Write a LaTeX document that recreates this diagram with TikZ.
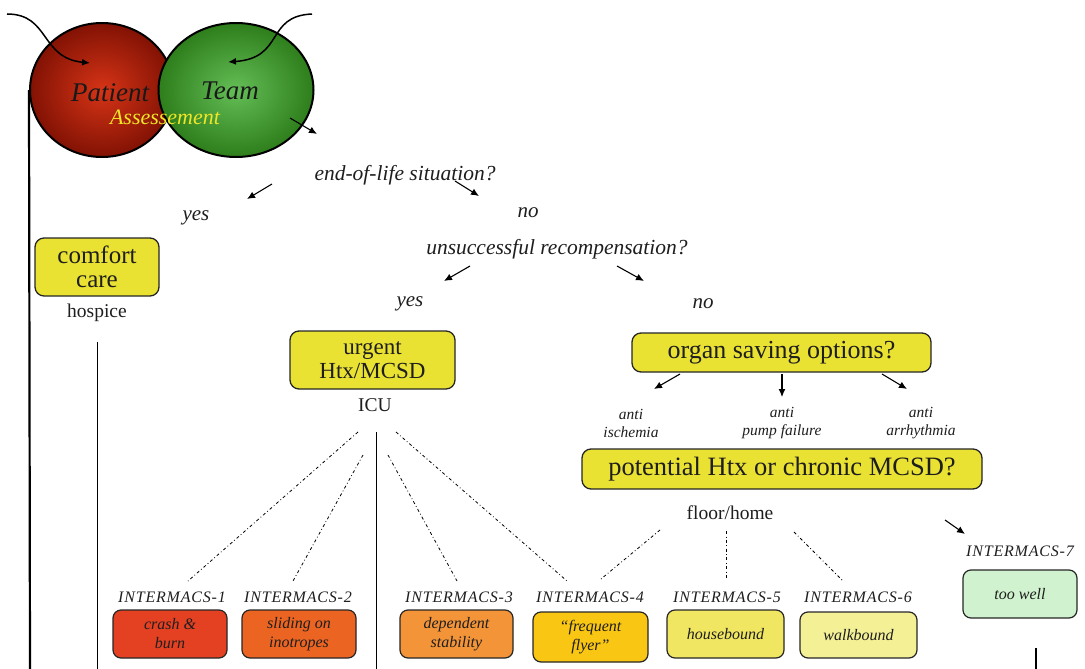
\documentclass[tikz,border=0pt]{standalone}
\usepackage{fontspec}
\setmainfont{Liberation Serif}
\usetikzlibrary{arrows.meta,shapes.geometric}
\definecolor{boxyellow}{RGB}{234,226,50}
\definecolor{redin}{RGB}{214,52,22}
\definecolor{redout}{RGB}{130,18,4}
\definecolor{greenin}{RGB}{100,190,86}
\definecolor{greenout}{RGB}{46,126,28}
\definecolor{assess}{RGB}{240,230,40}
\definecolor{im1}{RGB}{228,64,34}
\definecolor{im2}{RGB}{236,100,34}
\definecolor{im3}{RGB}{244,148,56}
\definecolor{im4}{RGB}{250,198,20}
\definecolor{im5}{RGB}{240,230,98}
\definecolor{im6}{RGB}{244,240,150}
\definecolor{im7}{RGB}{208,242,206}
\definecolor{txt}{RGB}{30,30,30}
\begin{document}
\begin{tikzpicture}[x=1pt,y=-1pt,
  ybox/.style={draw=black!85,line width=1.3pt,rounded corners=9pt,fill=boxyellow,align=center,inner sep=1pt,text=txt},
  ibox/.style={draw=black!85,line width=1.2pt,rounded corners=8pt,minimum width=114pt,minimum height=48pt,align=center,inner sep=1pt,font=\fontsize{16}{19}\selectfont\itshape,text=txt},
  ilabel/.style={font=\fontsize{16}{18}\selectfont\itshape\addfontfeatures{LetterSpace=5},text=txt},
  qtext/.style={font=\fontsize{21.5}{24}\selectfont\itshape,text=txt},
  ans/.style={font=\fontsize{21}{24}\selectfont\itshape,text=txt},
  small/.style={font=\fontsize{15.5}{18}\selectfont\itshape,align=center,text=txt},
  place/.style={font=\fontsize{19.5}{22}\selectfont,text=txt},
  arr/.style={-{Latex[length=8pt,width=7pt]},line width=1.1pt},
  dd/.style={line width=0.8pt,dash pattern=on 3pt off 2.5pt on 0.8pt off 2.5pt},
  thickline/.style={line width=2.2pt},
  thinline/.style={line width=0.9pt}]
\useasboundingbox (0,0) rectangle (1085,669);

% circles
\node[ellipse,draw,line width=2pt,minimum width=144pt,minimum height=134pt,inner color=redin,outer color=redout] (patient) at (102,90) {};
\node[ellipse,draw,line width=2pt,minimum width=155pt,minimum height=134pt,inner color=greenin,outer color=greenout] (team) at (236,90) {};
\node[font=\fontsize{27}{30}\selectfont\itshape,text=black!90] (ptext) at (110,93) {Patient};
\node[font=\fontsize{27}{30}\selectfont\itshape,text=black!90] (ttext) at (230,91) {Team};
\node[font=\fontsize{22}{24}\selectfont\itshape,text=assess] (assess) at (165,117) {Assessement};

\coordinate (c1s) at (7,14);
\coordinate (c1e) at (90,63);
\coordinate (c2s) at (312,14);
\coordinate (c2e) at (228,62);
\draw[arr,line width=1.5pt] (c1s) .. controls (50,14) and (40,58) .. (c1e);
\draw[arr,line width=1.5pt] (c2s) .. controls (265,16) and (285,58) .. (c2e);

\coordinate (a0s) at (290,118); \coordinate (a0e) at (317,134);
\draw[arr] (a0s) -- (a0e);

% left thick line
\coordinate (lbot) at (30,669);
\draw[thickline] (patient.west) -- (lbot);

% questions
\node[qtext] (q1) at (405,175) {end-of-life situation?};
\coordinate (a1s) at (272,184); \coordinate (a1e) at (247,199);
\coordinate (a2s) at (455,181); \coordinate (a2e) at (479,196);
\draw[arr] (a1s) -- (a1e);
\draw[arr] (a2s) -- (a2e);
\node[ans] (yes1) at (196,218) {yes};
\node[ans] (no1) at (528,213) {no};
\node[qtext] (q2) at (557,249) {unsuccessful recompensation?};
\coordinate (a3s) at (470,266); \coordinate (a3e) at (444,281);
\coordinate (a4s) at (617,266); \coordinate (a4e) at (644,281);
\draw[arr] (a3s) -- (a3e);
\draw[arr] (a4s) -- (a4e);
\node[ans] (yes2) at (410,304) {yes};
\node[ans] (no2) at (703,304) {no};

% comfort care
\node[ybox,minimum width=124pt,minimum height=58pt,font=\fontsize{25}{24}\selectfont] (comfort) at (97,267) {comfort\\care};
\node[place] (hospice) at (97,313) {hospice};
\coordinate (htop) at (97,342); \coordinate (hbot) at (97,669);
\draw[thinline] (htop) -- (hbot);

% urgent
\node[ybox,minimum width=165pt,minimum height=58pt,font=\fontsize{23}{24}\selectfont] (urgent) at (372.5,360) {urgent\\Htx/MCSD};
\node[place] (icu) at (375,405) {ICU};
\coordinate (itop) at (376,432); \coordinate (ibot) at (376,669);
\draw[thinline] (itop) -- (ibot);

% organ saving
\node[ybox,minimum width=299pt,minimum height=39pt,font=\fontsize{26}{28}\selectfont] (organ) at (781.5,352.5) {organ saving options?};
\coordinate (o1s) at (680,374); \coordinate (o1e) at (654,389);
\coordinate (o2s) at (782,374); \coordinate (o2e) at (782,397);
\coordinate (o3s) at (882,374); \coordinate (o3e) at (907,389);
\draw[arr] (o1s) -- (o1e);
\draw[arr] (o2s) -- (o2e);
\draw[arr] (o3s) -- (o3e);
\node[small] (isch) at (631,423) {anti\\ischemia};
\node[small] (pump) at (782,423) {anti\\pump failure};
\node[small] (arrh) at (921,423) {anti\\arrhythmia};

\node[ybox,minimum width=400pt,minimum height=40pt,font=\fontsize{26.5}{28}\selectfont] (potential) at (782,469) {potential Htx or chronic MCSD?};
\node[place] (floor) at (730,513) {floor/home};
\coordinate (a7s) at (945,520); \coordinate (a7e) at (965,534);
\draw[arr] (a7s) -- (a7e);

% INTERMACS labels
\node[ilabel] (l1) at (172,597) {INTERMACS-1};
\node[ilabel] (l2) at (298,597) {INTERMACS-2};
\node[ilabel] (l3) at (459,597) {INTERMACS-3};
\node[ilabel] (l4) at (590,597) {INTERMACS-4};
\node[ilabel] (l5) at (727,597) {INTERMACS-5};
\node[ilabel] (l6) at (858,597) {INTERMACS-6};
\node[ilabel] (l7) at (1020,551) {INTERMACS-7};

% INTERMACS boxes
\node[ibox,fill=im1] (b1) at (170,634) {crash \&\\burn};
\node[ibox,fill=im2] (b2) at (299,634) {sliding on\\inotropes};
\node[ibox,fill=im3,minimum width=113pt] (b3) at (456.5,634) {dependent\\stability};
\node[ibox,fill=im4,minimum width=115pt,minimum height=50pt] (b4) at (590.5,637) {``frequent\\flyer''};
\node[ibox,fill=im5,minimum width=117pt] (b5) at (725.5,634) {housebound};
\node[ibox,fill=im6,minimum width=117pt,minimum height=46pt] (b6) at (858.5,635) {walkbound};
\node[ibox,fill=im7] (b7) at (1020,594) {too well};

% dash-dot lines
\draw[dd] (358,432) -- (188,581);
\draw[dd] (363,455) -- (293,581);
\draw[dd] (388,455) -- (457,581);
\draw[dd] (396,432) -- (567,581);
\draw[dd] (660,530) -- (601,579);
\draw[dd] (726,531) -- (726,579);
\draw[dd] (794,532) -- (842,580);

\coordinate (rtop) at (1036,648); \coordinate (rbot) at (1036,669);
\draw[thickline] (rtop) -- (rbot);
\end{tikzpicture}
\end{document}
